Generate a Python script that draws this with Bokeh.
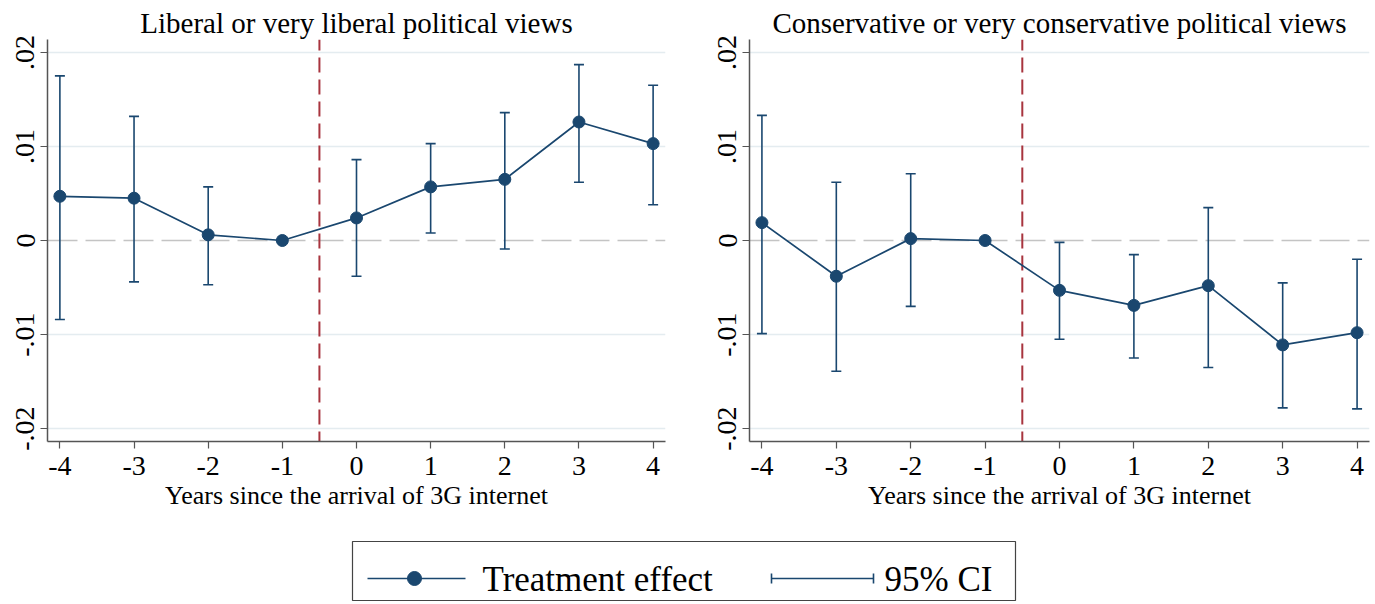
from bokeh.plotting import figure
from bokeh.models import (ColumnDataSource, Whisker, TeeHead, Span, FixedTicker, Range1d)
from bokeh.layouts import column, row
from bokeh.embed import file_html
from bokeh.resources import INLINE
from bokeh.core.properties import value

# ---------------- data ----------------
years = [-4, -3, -2, -1, 0, 1, 2, 3, 4]
year_labels = ["-4", "-3", "-2", "-1", "0", "1", "2", "3", "4"]

lib_effect = [0.0047, 0.0045, 0.0006, 0.0000, 0.0024, 0.0057, 0.0065, 0.0126, 0.0103]
lib_lower = [-0.0084, -0.0044, -0.0047, None, -0.0038, 0.0008, -0.0009, 0.0062, 0.0038]
lib_upper = [0.0175, 0.0132, 0.0057, None, 0.0086, 0.0103, 0.0136, 0.0187, 0.0165]

cons_effect = [0.0019, -0.0038, 0.0002, 0.0000, -0.0053, -0.0069, -0.0048, -0.0111, -0.0098]
cons_lower = [-0.0099, -0.0139, -0.0070, None, -0.0105, -0.0125, -0.0135, -0.0178, -0.0179]
cons_upper = [0.0133, 0.0062, 0.0071, None, -0.0002, -0.0015, 0.0035, -0.0045, -0.0020]

y_ticks = [-0.02, -0.01, 0.0, 0.01, 0.02]
y_tick_labels = ["-.02", "-.01", "0", ".01", ".02"]

titles = ["Liberal or very liberal political views",
          "Conservative or very conservative political views"]
x_label = "Years since the arrival of 3G internet"
legend_labels = ["Treatment effect", "95% CI"]
event_x = -0.5

NAVY = "#1a476f"
RED = "#a8343e"
FONT = "Liberation Serif"


def panel(title, effect, lower, upper, width, bl, br):
    p = figure(width=width, height=528, output_backend="svg", toolbar_location=None,
               x_range=Range1d(-4.167, 4.167), y_range=Range1d(-0.02137, 0.02137),
               min_border_left=bl, min_border_right=br, min_border_top=39,
               min_border_bottom=87, title=title)
    p.outline_line_color = None
    p.background_fill_color = "white"
    p.border_fill_color = "white"
    p.title.text_font = FONT
    p.title.text_font_size = "29px"
    p.title.text_font_style = "normal"
    p.title.text_color = "black"
    p.title.align = "center"
    p.title.standoff = 2

    p.xgrid.visible = False
    p.ygrid.ticker = FixedTicker(ticks=[-0.02, -0.01, 0.01, 0.02])
    p.ygrid.grid_line_color = "#e4ecf0"
    p.ygrid.grid_line_width = 1.5

    for ax in (p.xaxis[0], p.yaxis[0]):
        ax.axis_line_color = "#555555"
        ax.axis_line_width = 1.5
        ax.major_tick_line_color = "#555555"
        ax.major_tick_line_width = 1.2
        ax.major_tick_out = 7
        ax.major_tick_in = 0
        ax.minor_tick_line_color = None
        ax.major_label_text_font = FONT
        ax.major_label_text_font_size = "28px"
        ax.major_label_text_color = "black"

    p.xaxis.ticker = FixedTicker(ticks=years)
    p.xaxis.major_label_overrides = {t: l for t, l in zip(years, year_labels)}
    p.xaxis.major_label_standoff = 8
    p.xaxis.axis_label = x_label
    p.xaxis.axis_label_text_font = FONT
    p.xaxis.axis_label_text_font_size = "26px"
    p.xaxis.axis_label_text_font_style = "normal"
    p.xaxis.axis_label_text_color = "black"
    p.xaxis.axis_label_standoff = 3

    p.yaxis.ticker = FixedTicker(ticks=y_ticks)
    p.yaxis.major_label_overrides = {t: l for t, l in zip(y_ticks, y_tick_labels)}
    p.yaxis.major_label_orientation = "vertical"
    p.yaxis.major_label_standoff = 6

    p.add_layout(Span(location=0, dimension="width", line_color="#c4c4c4",
                      line_width=1.5, line_dash="30 8", level="underlay"))
    p.add_layout(Span(location=event_x, dimension="height", line_color=RED,
                      line_width=2, line_dash="15 7", line_dash_offset=4,
                      level="underlay"))

    ci_x = [x for x, lo in zip(years, lower) if lo is not None]
    ci_lo = [lo for lo in lower if lo is not None]
    ci_hi = [hi for hi in upper if hi is not None]
    ci_src = ColumnDataSource(dict(x=ci_x, lower=ci_lo, upper=ci_hi))
    p.add_layout(Whisker(base="x", lower="lower", upper="upper", source=ci_src,
                         line_color=NAVY, line_width=1.6,
                         upper_head=TeeHead(size=10, line_color=NAVY, line_width=1.6),
                         lower_head=TeeHead(size=10, line_color=NAVY, line_width=1.6)))

    src = ColumnDataSource(dict(x=years, y=effect))
    p.line("x", "y", source=src, line_color=NAVY, line_width=1.7)
    p.scatter("x", "y", source=src, size=12, fill_color=NAVY, line_color=NAVY)
    return p


p1 = panel(titles[0], lib_effect, lib_lower, lib_upper, 703, 47, 38)
p2 = panel(titles[1], cons_effect, cons_lower, cons_upper, 672, 46, 6)

# ---------------- legend strip ----------------
leg = figure(width=1375, height=74, output_backend="svg", toolbar_location=None,
             x_range=Range1d(0, 1375), y_range=Range1d(74, 0),
             min_border=0, min_border_left=0, min_border_right=0,
             min_border_top=0, min_border_bottom=0)
leg.outline_line_color = None
leg.axis.visible = False
leg.grid.visible = False
leg.quad(left=[352], right=[1015], top=[13], bottom=[72], fill_color=None,
         line_color="#444444", line_width=1.2)
leg.line(x=[367, 465], y=[50, 50], line_color=NAVY, line_width=1.7)
leg.scatter(x=[414], y=[50], size=14, fill_color=NAVY, line_color=NAVY)
leg.segment(x0=[771], y0=[50], x1=[873], y1=[50], line_color=NAVY, line_width=1.6)
leg.segment(x0=[771, 873], y0=[45, 45], x1=[771, 873], y1=[55, 55],
            line_color=NAVY, line_width=1.6)
leg.text(x=[482, 884], y=[51, 51], text=legend_labels, text_font=value(FONT),
         text_font_size="35px", text_baseline="middle", text_color="black")

layout = column(row(p1, p2, spacing=0), leg, spacing=0)

with open("out.html", "w") as f:
    f.write(file_html(layout, INLINE))
